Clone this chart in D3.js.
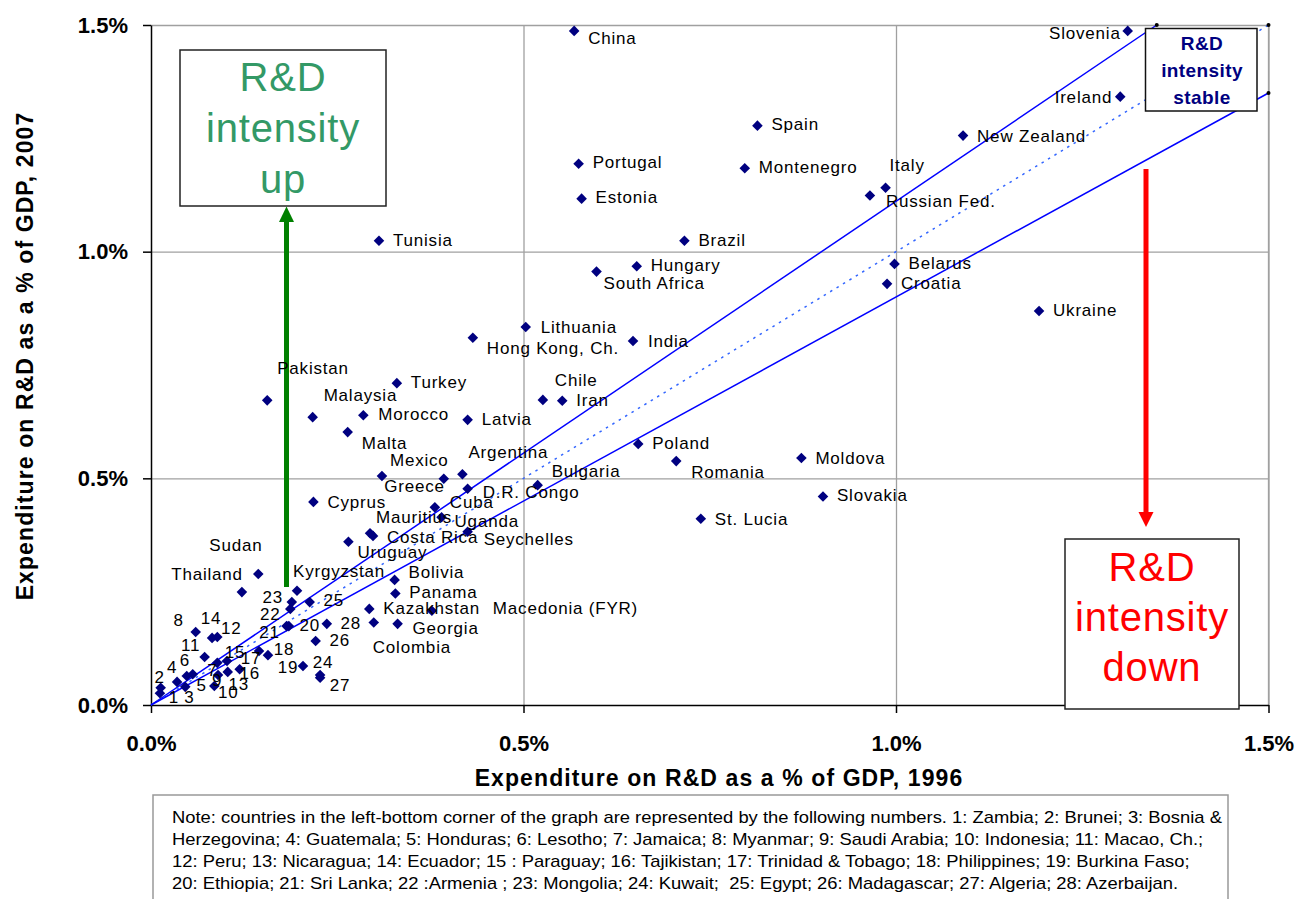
<!DOCTYPE html>
<html>
<head>
<meta charset="utf-8">
<script src="https://cdn.jsdelivr.net/npm/d3@7/dist/d3.min.js"></script>
<style>
  body { margin: 0; background: #fff; }
  text { font-family: "Liberation Sans", Arial, sans-serif; }
</style>
</head>
<body>
<div id="chart"></div>
<script>
// R&D expenditure as % of GDP, 1996 vs 2007
var countries = ["China", "Slovenia", "Ireland", "New Zealand", "Italy", "Russian Fed.", "Belarus", "Croatia", "Ukraine",
  "Spain", "Portugal", "Montenegro", "Estonia", "Brazil", "Hungary", "South Africa", "Tunisia",
  "Lithuania", "Hong Kong, Ch.", "India", "Pakistan", "Turkey", "Chile", "Iran", "Malaysia", "Morocco", "Latvia",
  "Malta", "Argentina", "Mexico", "Bulgaria", "Greece", "D.R. Congo", "Poland", "Romania", "Moldova", "Slovakia",
  "St. Lucia", "Cyprus", "Cuba", "Uganda", "Mauritius", "Costa Rica", "Seychelles", "Uruguay", "Sudan", "Thailand",
  "Kyrgyzstan", "Bolivia", "Panama", "Kazakhstan", "Macedonia (FYR)", "Georgia", "Colombia",
  "1", "2", "3", "4", "5", "6", "7", "8", "9", "10", "11", "12", "13", "14",
  "15", "16", "17", "18", "19", "20", "21", "22", "23", "24", "25", "26", "27", "28"];

var rd1996 = [0.568, 1.311, 1.301, 1.090, 0.986, 0.965, 0.998, 0.988, 1.192,
  0.814, 0.574, 0.797, 0.578, 0.716, 0.652, 0.598, 0.306,
  0.503, 0.432, 0.647, 0.156, 0.330, 0.526, 0.552, 0.217, 0.285, 0.425,
  0.264, 0.418, 0.310, 0.519, 0.393, 0.425, 0.654, 0.705, 0.873, 0.902,
  0.738, 0.218, 0.381, 0.390, 0.298, 0.294, 0.425, 0.265, 0.144, 0.122,
  0.196, 0.327, 0.328, 0.293, 0.377, 0.331, 0.299,
  0.012, 0.013, 0.046, 0.035, 0.056, 0.048, 0.089, 0.060, 0.090, 0.085, 0.072, 0.089, 0.103, 0.082,
  0.102, 0.119, 0.145, 0.157, 0.204, 0.185, 0.182, 0.187, 0.189, 0.227, 0.213, 0.221, 0.227, 0.236];

var rd2007 = [1.487, 1.487, 1.342, 1.256, 1.141, 1.124, 0.973, 0.929, 0.869,
  1.278, 1.194, 1.184, 1.117, 1.024, 0.968, 0.956, 1.024,
  0.834, 0.810, 0.803, 0.672, 0.710, 0.673, 0.671, 0.635, 0.639, 0.629,
  0.602, 0.509, 0.505, 0.485, 0.499, 0.477, 0.576, 0.538, 0.545, 0.460,
  0.411, 0.448, 0.436, 0.414, 0.373, 0.379, 0.382, 0.360, 0.289, 0.249,
  0.252, 0.276, 0.246, 0.212, 0.208, 0.179, 0.182,
  0.026, 0.038, 0.040, 0.051, 0.068, 0.064, 0.093, 0.161, 0.066, 0.042, 0.106, 0.150, 0.073, 0.148,
  0.097, 0.079, 0.119, 0.110, 0.086, 0.174, 0.174, 0.212, 0.227, 0.066, 0.227, 0.141, 0.060, 0.179];

var xTicks = [0, 0.5, 1.0, 1.5];
var yTicks = [0, 0.5, 1.0, 1.5];

// reference lines through the origin: +10%, stable, -10%
var refSlopes = [1 / 0.9, 1, 0.9];

var noteLines = [
  "Note: countries in the left-bottom corner of the graph are represented by the following numbers. 1: Zambia; 2: Brunei; 3: Bosnia &",
  "Herzegovina; 4: Guatemala; 5: Honduras; 6: Lesotho; 7: Jamaica; 8: Myanmar; 9: Saudi Arabia; 10: Indonesia; 11: Macao, Ch.;",
  "12: Peru; 13: Nicaragua; 14: Ecuador; 15 : Paraguay; 16: Tajikistan; 17: Trinidad & Tobago; 18: Philippines; 19: Burkina Faso;",
  "20: Ethiopia; 21: Sri Lanka; 22 :Armenia ; 23: Mongolia; 24: Kuwait;  25: Egypt; 26: Madagascar; 27: Algeria; 28: Azerbaijan."
];

// label placement relative to the marker: [dx, dy, anchor]
var labelOffset = {
  "China": [14, 7], "Slovenia": [-7, 2, "end"], "Ireland": [-8, 0, "end"], "New Zealand": [14, 0],
  "Italy": [4, -23], "Russian Fed.": [16, 6], "Belarus": [14, -1], "Croatia": [14, -1], "Ukraine": [14, -1],
  "Spain": [14, -2], "Portugal": [14, -2], "Montenegro": [14, -1], "Estonia": [14, -2], "Brazil": [14, -1],
  "Hungary": [14, -1], "South Africa": [7, 11], "Tunisia": [14, -1], "Lithuania": [15, 0],
  "Hong Kong, Ch.": [14, 10], "India": [15, 0], "Pakistan": [10, -32], "Turkey": [14, -1], "Chile": [12, -20],
  "Iran": [14, -1], "Malaysia": [11, -22], "Morocco": [15, -1], "Latvia": [14, -1], "Malta": [14, 11],
  "Argentina": [6, -22], "Mexico": [8, -16], "Bulgaria": [14, -14], "Greece": [1, 7, "end"],
  "D.R. Congo": [15, 3], "Poland": [14, -1], "Romania": [15, 11], "Moldova": [14, 0], "Slovakia": [14, -1],
  "St. Lucia": [14, 0], "Cyprus": [14, 0], "Cuba": [15, -5], "Uganda": [13, 4], "Mauritius": [3, -19],
  "Costa Rica": [17, 4], "Seychelles": [16, 7], "Uruguay": [9, 10], "Sudan": [-49, -29], "Thailand": [1, -18, "end"],
  "Kyrgyzstan": [-4, -20], "Bolivia": [14, -8], "Panama": [14, -1], "Kazakhstan": [14, -1],
  "Macedonia (FYR)": [61, -3], "Georgia": [15, 4], "Colombia": [-1, 25],
  // numbered countries: label centre relative to marker
  "1": [14, 4, "middle"], "2": [-1, -11, "middle"], "3": [4, 10, "middle"], "4": [-5, -15, "middle"],
  "5": [9, 11, "middle"], "6": [-2, -16, "middle"], "7": [-5, 7, "middle"], "8": [-17, -12, "middle"],
  "9": [-1, 5, "middle"], "10": [14, 6, "middle"], "11": [-14, -12, "middle"], "12": [14, -9, "middle"],
  "13": [11, 12, "middle"], "14": [-1, -20, "middle"], "15": [8, -9, "middle"], "16": [10, 4, "middle"],
  "17": [-8, 7, "middle"], "18": [16, -6, "middle"], "19": [-15, 1, "middle"], "20": [21, -1, "middle"],
  "21": [-17, 6, "middle"], "22": [-20, 5, "middle"], "23": [-19, -5, "middle"], "24": [3, -13, "middle"],
  "25": [24, -2, "middle"], "26": [24, -1, "middle"], "27": [20, 7, "middle"], "28": [24, -1, "middle"]
};

var svgWidth = 1296;
var svgHeight = 899;

var margin = { top: 25, right: 27.5, bottom: 194, left: 151 };
var width = svgWidth - margin.left - margin.right;
var height = svgHeight - margin.top - margin.bottom;

var svg = d3.select("#chart")
  .append("svg")
  .attr("width", svgWidth)
  .attr("height", svgHeight);

var chartGroup = svg.append("g")
  .attr("transform", `translate(${margin.left}, ${margin.top})`);

var xScale = d3.scaleLinear().domain([0, 1.5]).range([0, width]);
var yScale = d3.scaleLinear().domain([0, 1.5]).range([height, 0]);

var pct = d => d.toFixed(1) + "%";

// gridlines
chartGroup.append("g")
  .attr("transform", `translate(0, ${height})`)
  .call(d3.axisBottom(xScale).tickValues(xTicks.slice(1)).tickSize(-height).tickFormat(""))
  .call(g => g.select(".domain").remove())
  .call(g => g.selectAll("line").attr("stroke", "#a0a0a0").attr("stroke-width", 1.3));

chartGroup.append("g")
  .call(d3.axisLeft(yScale).tickValues(yTicks.slice(1)).tickSize(-width).tickFormat(""))
  .call(g => g.select(".domain").remove())
  .call(g => g.selectAll("line").attr("stroke", "#a0a0a0").attr("stroke-width", 1.3));

// right border of plot area
chartGroup.append("line")
  .attr("x1", width).attr("x2", width).attr("y1", 0).attr("y2", height)
  .attr("stroke", "#a0a0a0").attr("stroke-width", 1.3);

// axes
var bottomAxis = d3.axisBottom(xScale).tickValues(xTicks).tickSize(8).tickSizeOuter(0).tickFormat(pct);
var leftAxis = d3.axisLeft(yScale).tickValues(yTicks).tickSize(8).tickSizeOuter(0).tickFormat(pct);

chartGroup.append("g")
  .attr("transform", `translate(0, ${height})`)
  .call(bottomAxis)
  .call(g => g.selectAll("path, line").attr("stroke", "#000").attr("stroke-width", 1.5))
  .call(g => g.selectAll("text")
    .attr("y", 30)
    .attr("font-size", "22px")
    .attr("font-weight", "bold")
    .attr("font-family", "Liberation Sans, Arial, sans-serif")
    .attr("fill", "#000"));

chartGroup.append("g")
  .call(leftAxis)
  .call(g => g.selectAll("path, line").attr("stroke", "#000").attr("stroke-width", 1.5))
  .call(g => g.selectAll("text")
    .attr("x", -23)
    .attr("font-size", "22px")
    .attr("font-weight", "bold")
    .attr("font-family", "Liberation Sans, Arial, sans-serif")
    .attr("fill", "#000"));

// reference lines
var line = d3.line().x(d => xScale(d[0])).y(d => yScale(d[1]));
var refLines = refSlopes.map(function(s) {
  var xEnd = Math.min(1.5, 1.5 / s);
  return [[0, 0], [xEnd, xEnd * s]];
});

chartGroup.selectAll(".refLine")
  .data(refLines)
  .enter()
  .append("path")
  .attr("class", "refLine")
  .attr("d", line)
  .attr("fill", "none")
  .attr("stroke", (d, i) => i === 1 ? "#3366ff" : "#0000ff")
  .attr("stroke-width", 1.5)
  .attr("stroke-dasharray", (d, i) => i === 1 ? "2.5,5" : null);

chartGroup.selectAll(".refEnd")
  .data(refLines)
  .enter()
  .append("circle")
  .attr("cx", d => xScale(d[1][0]))
  .attr("cy", d => yScale(d[1][1]))
  .attr("r", 2)
  .attr("fill", "#000");

// annotation: R&D intensity up
var upBox = chartGroup.append("g");
upBox.append("rect")
  .attr("x", 29).attr("y", 25).attr("width", 206).attr("height", 156)
  .attr("fill", "#fff").attr("stroke", "#222").attr("stroke-width", 1.5);
upBox.selectAll("text")
  .data(["R&D", "intensity", "up"])
  .enter()
  .append("text")
  .attr("x", 132)
  .attr("y", (d, i) => 66 + i * 51)
  .attr("text-anchor", "middle")
  .attr("font-size", "40px")
  .attr("letter-spacing", "0.8px")
  .attr("fill", "#339966")
  .text(d => d);

// green arrow
chartGroup.append("line")
  .attr("x1", 135.5).attr("x2", 135.5).attr("y1", 562).attr("y2", 195)
  .attr("stroke", "#008000").attr("stroke-width", 5);
chartGroup.append("path")
  .attr("d", "M135.5,181.5L128,197L143,197Z")
  .attr("fill", "#008000");

// annotation: R&D intensity down
var downBox = chartGroup.append("g");
downBox.append("rect")
  .attr("x", 914).attr("y", 514).attr("width", 174).attr("height", 170)
  .attr("fill", "#fff").attr("stroke", "#222").attr("stroke-width", 1.5);
downBox.selectAll("text")
  .data(["R&D", "intensity", "down"])
  .enter()
  .append("text")
  .attr("x", 1001)
  .attr("y", (d, i) => 556 + i * 50)
  .attr("text-anchor", "middle")
  .attr("font-size", "40px")
  .attr("letter-spacing", "0.8px")
  .attr("fill", "#ff0000")
  .text(d => d);

// red arrow
chartGroup.append("line")
  .attr("x1", 995).attr("x2", 995).attr("y1", 144).attr("y2", 490)
  .attr("stroke", "#ff0000").attr("stroke-width", 5);
chartGroup.append("path")
  .attr("d", "M995,502L987.5,487L1002.5,487Z")
  .attr("fill", "#ff0000");

// annotation: R&D intensity stable
var stableBox = chartGroup.append("g");
stableBox.append("rect")
  .attr("x", 994.5).attr("y", 3.5).attr("width", 111.5).attr("height", 82.5)
  .attr("fill", "#fff").attr("stroke", "#111").attr("stroke-width", 1.5);
stableBox.selectAll("text")
  .data(["R&D", "intensity", "stable"])
  .enter()
  .append("text")
  .attr("x", 1051)
  .attr("y", (d, i) => 25 + i * 27)
  .attr("text-anchor", "middle")
  .attr("font-size", "19px")
  .attr("letter-spacing", "0.4px")
  .attr("font-weight", "bold")
  .attr("fill", "#000080")
  .text(d => d);

// country markers
var points = countries.map((c, i) => ({ name: c, x: rd1996[i], y: rd2007[i] }));
var diamond = d3.symbol().type(d3.symbolSquare).size(56);

chartGroup.append("g").selectAll("path")
  .data(points)
  .enter()
  .append("path")
  .attr("d", diamond)
  .attr("transform", d => `translate(${xScale(d.x)}, ${yScale(d.y)}) rotate(45)`)
  .attr("fill", "#000080");

// country labels
chartGroup.append("g").selectAll("text")
  .data(points)
  .enter()
  .append("text")
  .attr("x", d => xScale(d.x) + labelOffset[d.name][0])
  .attr("y", d => yScale(d.y) + labelOffset[d.name][1])
  .attr("dy", "0.35em")
  .attr("text-anchor", d => labelOffset[d.name][2] || "start")
  .attr("font-size", "17px")
  .attr("letter-spacing", "0.8px")
  .attr("fill", "#000")
  .text(d => d.name);

// axis titles
svg.append("text")
  .attr("x", 719)
  .attr("y", 786)
  .attr("text-anchor", "middle")
  .attr("font-size", "23px")
  .attr("letter-spacing", "1.1px")
  .attr("font-weight", "bold")
  .text("Expenditure on R&D as a % of GDP, 1996");

svg.append("text")
  .attr("transform", "translate(33, 356) rotate(-90)")
  .attr("text-anchor", "middle")
  .attr("font-size", "23px")
  .attr("letter-spacing", "1.1px")
  .attr("font-weight", "bold")
  .text("Expenditure on R&D as a % of GDP, 2007");

// note box
svg.append("rect")
  .attr("x", 153).attr("y", 795).attr("width", 1075).attr("height", 110)
  .attr("fill", "#fff").attr("stroke", "#999").attr("stroke-width", 1.5);

svg.append("g")
  .attr("transform", "translate(172, 0) scale(1.15, 1)")
  .selectAll("text")
  .data(noteLines)
  .enter()
  .append("text")
  .attr("x", 0)
  .attr("y", (d, i) => 823 + i * 22)
  .attr("font-size", "16px")
  .style("white-space", "pre")
  .text(d => d);
</script>
</body>
</html>
